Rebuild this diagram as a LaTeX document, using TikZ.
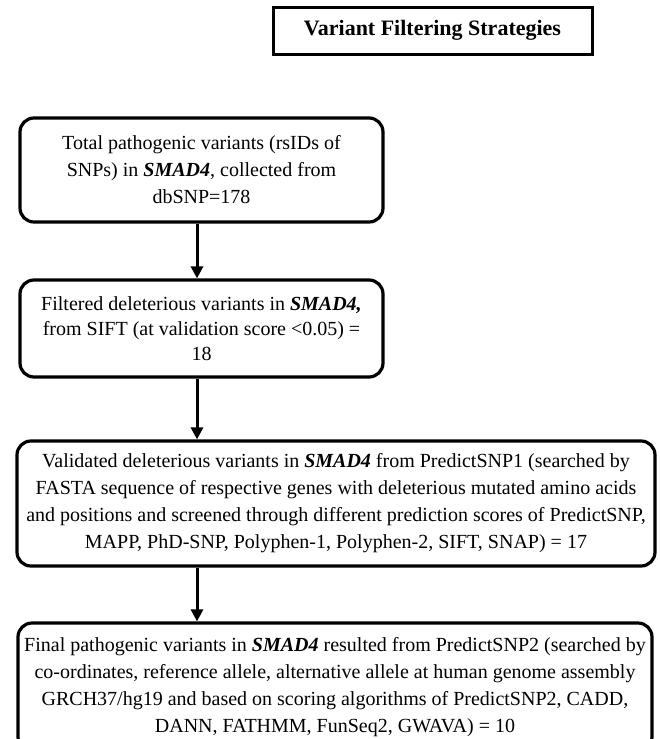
\documentclass[tikz,border=0pt]{standalone}
\usepackage{fontspec}
\setmainfont{Liberation Serif}
\usetikzlibrary{arrows.meta}
\newcommand{\gene}[1]{\textbf{\textit{#1}}}
\tikzset{
  flowbox/.style={draw, line width=3.2pt, rounded corners=14pt, align=center, inner sep=0pt, font=\fontsize{20}{27}\selectfont},
  arr/.style={line width=3pt, -{Triangle[length=12pt,width=12pt]}},
  titlebox/.style={draw, line width=3pt, inner sep=0pt, font=\bfseries\fontsize{22}{26}\selectfont}
}
\begin{document}
\begin{tikzpicture}[x=1pt,y=-1pt]
\clip (0,0) rectangle (659,739);
\fill[white] (0,0) rectangle (659,739);
\node[titlebox, minimum width=319pt, minimum height=47pt] (title) at (432.5,30.5) {Variant Filtering Strategies};
\node[flowbox, minimum width=363pt, minimum height=104pt] (b1) at (201.5,170)
  {Total pathogenic variants (rsIDs of\\ SNPs) in \gene{SMAD4}, collected from\\ dbSNP=178};
\node[flowbox, minimum width=363pt, minimum height=97pt, font=\fontsize{20}{25}\selectfont] (b2) at (201.5,328.5)
  {Filtered deleterious variants in \gene{SMAD4,}\\ from SIFT (at validation score <0.05) =\\ 18};
\node[flowbox, minimum width=638pt, minimum height=125pt] (b3) at (336,503.5)
  {Validated deleterious variants in \gene{SMAD4} from PredictSNP1 (searched by\\ FASTA sequence of respective genes with deleterious mutated amino acids\\ and positions and screened through different prediction scores of PredictSNP,\\ MAPP, PhD-SNP, Polyphen-1, Polyphen-2, SIFT, SNAP) = 17};
\node[flowbox, minimum width=634pt, minimum height=128pt] (b4) at (335,687)
  {Final pathogenic variants in \gene{SMAD4} resulted from PredictSNP2 (searched by\\ co-ordinates, reference allele, alternative allele at human genome assembly\\ GRCH37/hg19 and based on scoring algorithms of PredictSNP2, CADD,\\ DANN, FATHMM, FunSeq2, GWAVA) = 10};
\coordinate (ax) at (197,0);
\draw[arr] (b1.south -| ax) -- (b2.north -| ax);
\draw[arr] (b2.south -| ax) -- (b3.north -| ax);
\draw[arr] (b3.south -| ax) -- (b4.north -| ax);
\end{tikzpicture}
\end{document}
